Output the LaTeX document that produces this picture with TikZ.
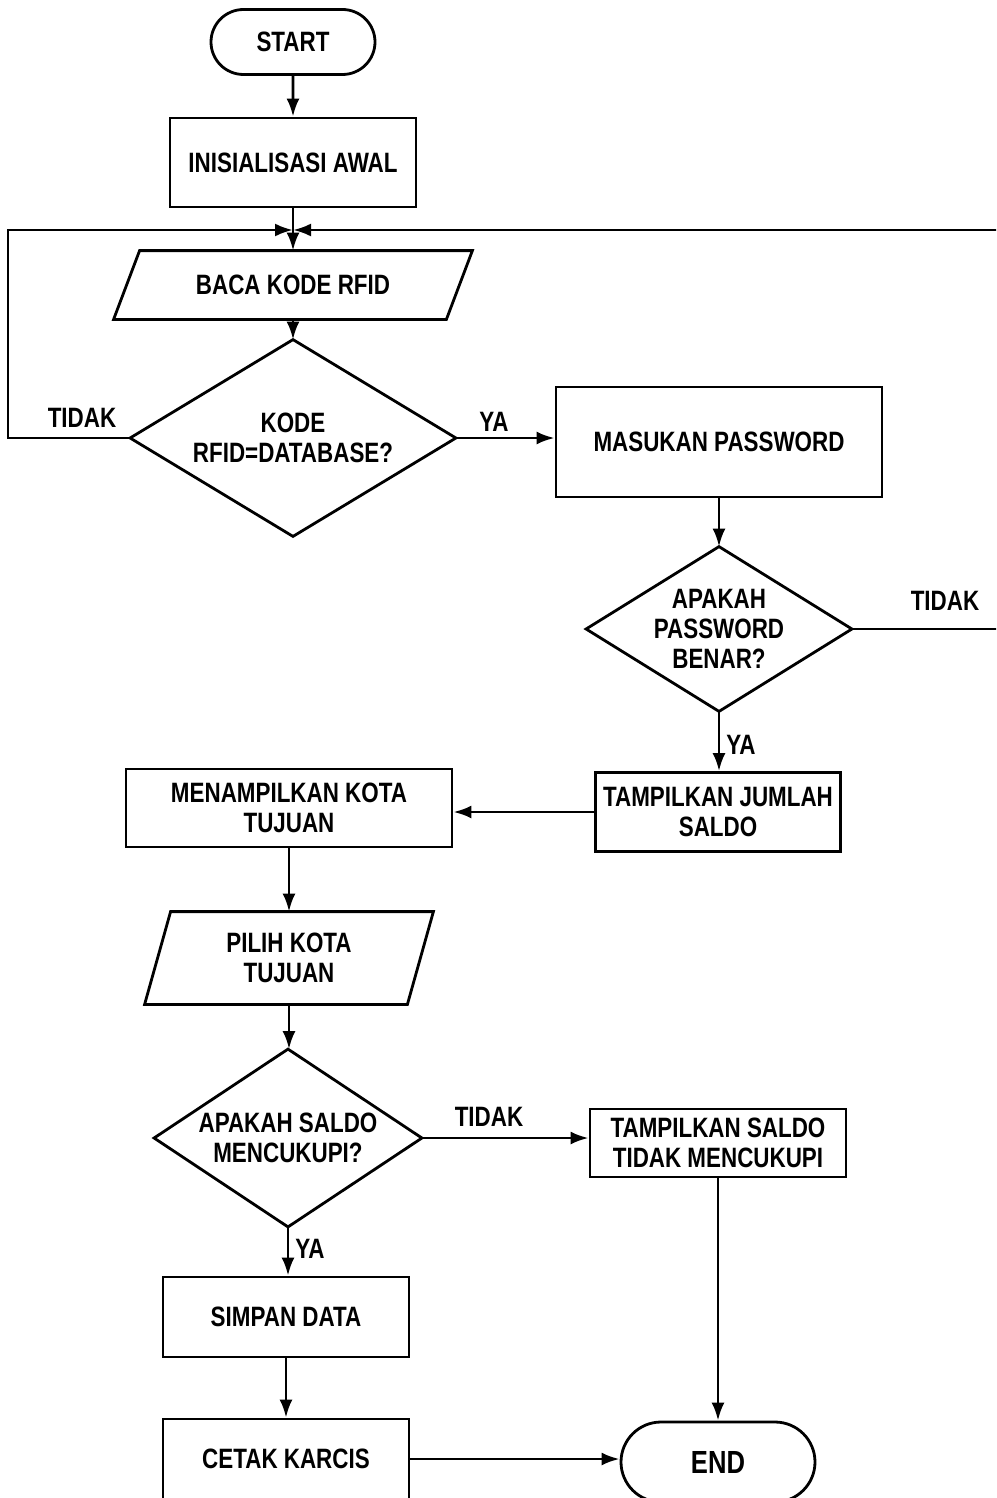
\documentclass[tikz,border=0pt]{standalone}
\usepackage{fontspec}
\newfontfamily\flowfont{Liberation Sans}[UprightFont=* Bold, FakeStretch=0.8]
\usetikzlibrary{arrows.meta,shapes.misc,calc}

\begin{document}
\begin{tikzpicture}[x=1pt,y=-1pt,
  line width=2.8pt,
  every node/.style={font=\flowfont\fontsize{28}{30}\selectfont, align=center, inner sep=0pt},
  flow/.style={-{Latex[length=18pt,width=13pt]}},
  procbox/.style={draw, rectangle},
  term/.style={draw, rounded rectangle, rounded rectangle arc length=180},
  shapeholder/.style={rectangle, draw=none},
  lbl/.style={}
]
\path[use as bounding box] (0,0) rectangle (996,1498);
\clip (0,0) rectangle (996,1498);

% --- main column ---
\node[term, minimum width=164, minimum height=65] (start) at (293,42) {START};
\node[procbox, minimum width=246, minimum height=89] (init) at (293,162.5) {INISIALISASI AWAL};
\coordinate (J) at (293,230);

\node[shapeholder, minimum width=330, minimum height=66] (baca) at (293,285) {BACA KODE RFID};
\draw ([xshift=13pt]baca.north west) -- ([xshift=13pt]baca.north east)
   -- ([xshift=-13pt]baca.south east) -- ([xshift=-13pt]baca.south west) -- cycle;

\node[shapeholder, minimum width=323, minimum height=194] (d1) at (293,438) {KODE\\RFID=DATABASE?};
\draw (d1.north) -- (d1.east) -- (d1.south) -- (d1.west) -- cycle;

% --- right column ---
\node[procbox, minimum width=326, minimum height=110] (pass) at (719,442) {MASUKAN PASSWORD};

\node[shapeholder, minimum width=263, minimum height=162] (d2) at (719,629) {APAKAH\\PASSWORD\\BENAR?};
\draw (d2.north) -- (d2.east) -- (d2.south) -- (d2.west) -- cycle;

\node[procbox, minimum width=245, minimum height=79] (saldo) at (718,812) {TAMPILKAN JUMLAH\\SALDO};

% --- lower left column ---
\node[procbox, minimum width=326, minimum height=78] (kota) at (289,808) {MENAMPILKAN KOTA\\TUJUAN};

\node[shapeholder, minimum width=260, minimum height=90] (pilih) at (289,958) {PILIH KOTA\\TUJUAN};
\draw ([xshift=13pt]pilih.north west) -- ([xshift=13pt]pilih.north east)
   -- ([xshift=-13pt]pilih.south east) -- ([xshift=-13pt]pilih.south west) -- cycle;

\node[shapeholder, minimum width=265, minimum height=175] (d3) at (288,1138) {APAKAH SALDO\\MENCUKUPI?};
\draw (d3.north) -- (d3.east) -- (d3.south) -- (d3.west) -- cycle;

\node[procbox, minimum width=256, minimum height=68] (kurang) at (718,1143) {TAMPILKAN SALDO\\TIDAK MENCUKUPI};

\node[procbox, minimum width=246, minimum height=80] (simpan) at (286,1317) {SIMPAN DATA};
\node[procbox, minimum width=246, minimum height=80] (cetak) at (286,1459) {CETAK KARCIS};

\node[term, minimum width=194, minimum height=80, font=\flowfont\fontsize{32}{34}\selectfont] (end) at (718,1462) {END};

% --- connectors ---
\draw[flow] (start) -- (init);
\draw[flow] (init) -- (baca);
\draw[flow] (baca) -- (d1);
\draw[flow] (d1.west) -| (8,230) -- (J);
\draw[flow] (d2.east) -| (1000,230) -- (J);
\draw[flow] (d1.east) -- (d1.east -| pass.west);
\draw[flow] (pass) -- (d2);
\draw[flow] (d2.south) -- (d2.south |- saldo.north);
\draw[flow] (saldo.west) -- (saldo.west -| kota.east);
\draw[flow] (kota) -- (pilih);
\draw[flow] (pilih.south) -- (pilih.south |- d3.north);
\draw[flow] (d3.east) -- (d3.east -| kurang.west);
\draw[flow] (d3.south) -- (d3.south |- simpan.north);
\draw[flow] (simpan) -- (cetak);
\draw[flow] (cetak.east) -- (cetak.east -| end.west);
\draw[flow] (kurang) -- (end);

% --- branch labels ---
\node[lbl] (t1) at (82,418) {TIDAK};
\node[lbl] (y1) at (494,422) {YA};
\node[lbl] (t2) at (945,601) {TIDAK};
\node[lbl] (y2) at (741,745) {YA};
\node[lbl] (t3) at (489,1117) {TIDAK};
\node[lbl] (y3) at (310,1249) {YA};
\end{tikzpicture}
\end{document}
